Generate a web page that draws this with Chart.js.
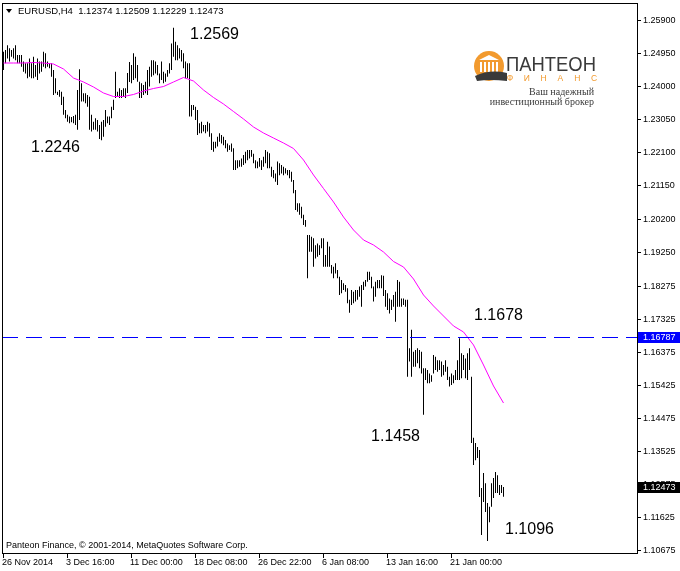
<!DOCTYPE html>
<html><head><meta charset="utf-8">
<script src="https://cdn.jsdelivr.net/npm/chart.js@4/dist/chart.umd.min.js"></script>
<style>html,body{margin:0;padding:0;background:#fff;}#wrap{width:680px;height:571px;position:relative;}</style>
</head><body><div id="wrap"><canvas id="c" width="680" height="571"></canvas></div>
<script>
const symbolTitle = 'EURUSD,H4  1.12374 1.12509 1.12229 1.12473';
const highs = [1.2500,1.2505,1.2519,1.2510,1.2505,1.2510,1.2519,1.2491,1.2491,1.2491,
1.2472,1.2467,1.2467,1.2481,1.2467,1.2486,1.2462,1.2481,1.2472,1.2472,
1.2500,1.2496,1.2472,1.2467,1.2467,1.2448,1.2424,1.2385,1.2390,1.2385,
1.2371,1.2333,1.2319,1.2314,1.2313,1.2316,1.2319,1.2390,1.2450,1.2410,
1.2381,1.2381,1.2376,1.2371,1.2319,1.2299,1.2309,1.2304,1.2290,1.2299,
1.2304,1.2333,1.2314,1.2314,1.2342,1.2362,1.2443,1.2385,1.2395,1.2390,
1.2395,1.2395,1.2439,1.2471,1.2462,1.2496,1.2486,1.2462,1.2414,1.2410,
1.2405,1.2414,1.2448,1.2457,1.2476,1.2476,1.2472,1.2462,1.2438,1.2472,
1.2443,1.2438,1.2448,1.2467,1.2524,1.2569,1.2529,1.2519,1.2510,1.2505,
1.2496,1.2472,1.2467,1.2467,1.2347,1.2347,1.2342,1.2333,1.2295,1.2299,
1.2290,1.2290,1.2299,1.2295,1.2266,1.2242,1.2242,1.2256,1.2266,1.2261,
1.2256,1.2247,1.2237,1.2232,1.2237,1.2223,1.2189,1.2189,1.2189,1.2194,
1.2204,1.2213,1.2218,1.2218,1.2218,1.2207,1.2189,1.2185,1.2195,1.2189,
1.2199,1.2218,1.2213,1.2209,1.2170,1.2161,1.2151,1.2185,1.2180,1.2175,
1.2170,1.2166,1.2161,1.2161,1.2156,1.2132,1.2103,1.2065,1.2065,1.2055,
1.2032,1.2017,1.1974,1.1974,1.1969,1.1965,1.1945,1.1950,1.1945,1.1965,
1.1965,1.1917,1.1955,1.1941,1.1888,1.1883,1.1893,1.1874,1.1854,1.1845,
1.1836,1.1831,1.1821,1.1788,1.1816,1.1811,1.1816,1.1816,1.1826,1.1831,
1.1840,1.1845,1.1869,1.1869,1.1854,1.1826,1.1840,1.1845,1.1845,1.1859,
1.1857,1.1816,1.1807,1.1792,1.1788,1.1802,1.1811,1.1845,1.1840,1.1792,
1.1792,1.1788,1.1788,1.1649,1.1702,1.1639,1.1644,1.1649,1.1644,1.1639,
1.1592,1.1592,1.1587,1.1577,1.1572,1.1630,1.1625,1.1615,1.1615,1.1611,
1.1601,1.1615,1.1596,1.1567,1.1577,1.1572,1.1587,1.1615,1.1678,1.1635,
1.1630,1.1620,1.1635,1.1649,1.1567,1.1392,1.1377,1.1366,1.1357,1.1248,
1.1291,1.1262,1.1205,1.1194,1.1262,1.1277,1.1294,1.1285,1.1257,1.1257,
1.12509];
const lows = [1.2448,1.2467,1.2481,1.2472,1.2486,1.2481,1.2476,1.2467,1.2467,1.2457,
1.2443,1.2438,1.2424,1.2428,1.2424,1.2424,1.2428,1.2419,1.2438,1.2443,
1.2457,1.2453,1.2457,1.2453,1.2428,1.2376,1.2381,1.2376,1.2371,1.2347,
1.2319,1.2309,1.2299,1.2295,1.2298,1.2295,1.2290,1.2276,1.2304,1.2357,
1.2357,1.2352,1.2342,1.2276,1.2271,1.2276,1.2276,1.2271,1.2250,1.2246,
1.2256,1.2285,1.2295,1.2290,1.2309,1.2333,1.2367,1.2371,1.2367,1.2367,
1.2371,1.2367,1.2382,1.2413,1.2410,1.2419,1.2424,1.2414,1.2367,1.2367,
1.2376,1.2381,1.2376,1.2400,1.2428,1.2433,1.2438,1.2433,1.2410,1.2419,
1.2410,1.2414,1.2428,1.2438,1.2448,1.2486,1.2476,1.2476,1.2481,1.2472,
1.2453,1.2424,1.2424,1.2314,1.2314,1.2333,1.2304,1.2261,1.2266,1.2266,
1.2271,1.2266,1.2271,1.2256,1.2218,1.2213,1.2223,1.2228,1.2242,1.2237,
1.2232,1.2223,1.2213,1.2218,1.2213,1.2161,1.2161,1.2166,1.2170,1.2170,
1.2175,1.2180,1.2189,1.2194,1.2199,1.2180,1.2166,1.2166,1.2170,1.2161,
1.2170,1.2180,1.2166,1.2166,1.2141,1.2137,1.2127,1.2118,1.2146,1.2151,
1.2146,1.2151,1.2146,1.2137,1.2127,1.2094,1.2046,1.2041,1.2032,1.2022,
1.2003,1.1998,1.1850,1.1926,1.1926,1.1883,1.1907,1.1912,1.1917,1.1936,
1.1883,1.1883,1.1883,1.1883,1.1864,1.1850,1.1864,1.1850,1.1802,1.1807,
1.1816,1.1811,1.1778,1.1751,1.1773,1.1778,1.1783,1.1788,1.1797,1.1768,
1.1816,1.1826,1.1840,1.1845,1.1821,1.1783,1.1797,1.1821,1.1821,1.1821,
1.1799,1.1768,1.1759,1.1749,1.1759,1.1768,1.1725,1.1768,1.1768,1.1768,
1.1773,1.1768,1.1567,1.1611,1.1567,1.1596,1.1596,1.1606,1.1592,1.1577,
1.1458,1.1558,1.1549,1.1549,1.1553,1.1577,1.1587,1.1582,1.1587,1.1567,
1.1572,1.1582,1.1558,1.1539,1.1544,1.1549,1.1558,1.1558,1.1558,1.1563,
1.1587,1.1563,1.1558,1.1587,1.1377,1.1314,1.1328,1.1334,1.1222,1.1113,
1.1208,1.1179,1.1096,1.1150,1.1194,1.1219,1.1234,1.1234,1.1228,1.1234,
1.12229];
const maIndex = [0,5,10,15,20,25,30,35,40,45,50,55,60,65,70,75,80,85,90,95,100,105,110,115,120,125,
130,135,140,145,150,155,160,165,170,175,180,185,190,195,200,205,210,215,220,225,230,235,240,245,250];
const maValues = [1.24678,1.24678,1.24678,1.24692,1.24678,1.24649,1.24506,1.24247,1.24133,1.23989,
1.23817,1.23716,1.23716,1.23774,1.23874,1.23946,1.24003,1.24133,1.24262,1.24161,
1.23903,1.23688,1.23501,1.23286,1.23071,1.22841,1.22669,1.22525,1.22382,1.22224,
1.21894,1.21464,1.21076,1.20689,1.20258,1.19885,1.19598,1.19455,1.19254,1.18981,
1.18823,1.18479,1.18020,1.17704,1.17417,1.17130,1.16958,1.16585,1.16011,1.15408,1.14920];
const yTickValues = [1.25900,1.24950,1.24000,1.23050,1.22100,1.21150,1.20200,1.19250,1.18275,
1.17325,1.16375,1.15425,1.14475,1.13525,1.12575,1.11625,1.10675];
const xTickIndex = [0,32,64,96,128,160,192,224];
const xTickLabels = ['26 Nov 2014','3 Dec 16:00','11 Dec 00:00','18 Dec 08:00','26 Dec 22:00','6 Jan 08:00','13 Jan 16:00','21 Jan 00:00'];
const levelValue = 1.16787;
const lastPrice = 1.12473;
const markLabels = ['1.2569','1.2246','1.1678','1.1458','1.1096'];
const markIndex = [85,49,228,210,242];
const markSide = ['high','low','high','low','low'];
const copyrightText = 'Panteon Finance, \u00A9 2001-2014, MetaQuotes Software Corp.';

const FONT = "'Liberation Sans', Arial, sans-serif";
const markStyle = [{dx:16.5,dy:7.3,al:'left'},{dx:-21.5,dy:7.7,al:'right'},{dx:14.5,dy:-22.3,al:'left'},{dx:-3.5,dy:22,al:'right'},{dx:17.5,dy:-11,al:'left'}];

const mtPlugin = {
  id:'mt',
  beforeDraw(chart){
    const c=chart.ctx; c.save(); c.fillStyle='#fff'; c.fillRect(0,0,chart.width,chart.height); c.restore();
  },
  afterDatasetsDraw(chart){
    const c=chart.ctx, ys=chart.scales.y, a=chart.chartArea;
    const y=Math.round(ys.getPixelForValue(levelValue)-0.5)+0.5;
    c.save(); c.strokeStyle='#0000FF'; c.lineWidth=1; c.setLineDash([16,8]);
    c.beginPath(); c.moveTo(a.left,y); c.lineTo(a.right,y); c.stroke(); c.restore();
  },
  afterDraw(chart){
    const c=chart.ctx, xs=chart.scales.x, ys=chart.scales.y, a=chart.chartArea;
    c.save();
    c.strokeStyle='#000'; c.lineWidth=1;
    c.strokeRect(a.left+0.5,a.top+0.5,a.right-a.left,a.bottom-a.top);
    c.font='9px '+FONT; c.fillStyle='#000'; c.textBaseline='middle'; c.textAlign='left';
    yTickValues.forEach(v=>{
      const y=Math.round(ys.getPixelForValue(v)-0.5)+0.5;
      c.beginPath(); c.moveTo(a.right+1,y); c.lineTo(a.right+4,y); c.stroke();
      c.fillText(v.toFixed(5),a.right+6,y);
    });
    xTickIndex.forEach((idx,k)=>{
      const x=Math.round(xs.getPixelForValue(idx)-0.5)+0.5;
      c.beginPath(); c.moveTo(x,a.bottom+1); c.lineTo(x,a.bottom+5); c.stroke();
      c.fillText(xTickLabels[k],x-1.5,a.bottom+10);
    });
    const ly=ys.getPixelForValue(levelValue);
    c.fillStyle='#0000FF'; c.fillRect(a.right+1,Math.round(ly-6),43,11);
    c.fillStyle='#fff'; c.fillText(levelValue.toFixed(5),a.right+6,Math.round(ly-6)+5.5);
    const py=ys.getPixelForValue(lastPrice);
    c.fillStyle='#000'; c.fillRect(a.right+1,Math.round(py-6),43,11);
    c.fillStyle='#fff'; c.fillText(lastPrice.toFixed(5),a.right+6,Math.round(py-6)+5.5);
    c.fillStyle='#000';
    c.beginPath(); c.moveTo(6,9); c.lineTo(12,9); c.lineTo(9,13); c.closePath(); c.fill();
    c.font='9.5px '+FONT; c.textAlign='left'; c.fillText(symbolTitle,18,11);
    c.font='9px '+FONT; c.fillText(copyrightText,6,546);
    c.font='16px '+FONT; c.fillStyle='#000';
    markLabels.forEach((t,k)=>{
      const i=markIndex[k]; const v=markSide[k]==='high'?highs[i]:lows[i];
      const x=xs.getPixelForValue(i), y=ys.getPixelForValue(v), s=markStyle[k];
      c.textAlign=s.al; c.textBaseline='middle'; c.fillText(t,x+s.dx,y+s.dy);
    });
    const orange='#F29A2E', dark='#3a3a3a';
    c.fillStyle=orange; c.beginPath(); c.arc(489,66,15,0,Math.PI*2); c.fill();
    c.fillStyle='#fff';
    c.beginPath(); c.moveTo(479,60); c.lineTo(489,55); c.lineTo(499,60); c.closePath(); c.fill();
    for(let k=0;k<5;k++){ c.fillRect(480+k*4,62,2,10); }
    c.fillStyle=dark; c.beginPath(); c.moveTo(475,76); c.quadraticCurveTo(490,69,507,73); c.lineTo(507,81); c.quadraticCurveTo(490,79,477,81); c.closePath(); c.fill();
    c.font='21px '+FONT; c.fillStyle=dark; c.textAlign='left'; c.textBaseline='alphabetic';
    const brand='\u041F\u0410\u041D\u0422\u0415\u041E\u041D';
    const lw=c.measureText(brand).width;
    c.save(); c.translate(506,71); c.scale(90/lw,1); c.fillText(brand,0,0); c.restore();
    c.font='8.5px '+FONT; c.fillStyle=orange; c.textAlign='center';
    const fin=['\u0424','\u0418','\u041D','\u0410','\u041D','\u0421'];
    fin.forEach((ch,k)=>c.fillText(ch,510+k*16.8,81));
    c.font="10px 'Liberation Serif', serif"; c.fillStyle=dark; c.textAlign='right';
    c.fillText('\u0412\u0430\u0448 \u043D\u0430\u0434\u0435\u0436\u043D\u044B\u0439',594,95);
    c.fillText('\u0438\u043D\u0432\u0435\u0441\u0442\u0438\u0446\u0438\u043E\u043D\u043D\u044B\u0439 \u0431\u0440\u043E\u043A\u0435\u0440',594,105);
    c.restore();
  }
};

new Chart(document.getElementById('c'),{
  data:{datasets:[
    {type:'line',data:maIndex.map((x,k)=>({x:x,y:maValues[k]})),borderColor:'#FF00FF',borderWidth:1,pointRadius:0,tension:0,order:0},
    {type:'bar',data:highs.map((h,i)=>({x:i,y:[lows[i],h]})),backgroundColor:'#000',borderWidth:0,barThickness:1,inflateAmount:0,order:1}
  ]},
  options:{
    responsive:false,animation:false,devicePixelRatio:1,
    layout:{padding:{left:2,top:3,right:43,bottom:18}},
    plugins:{legend:{display:false},tooltip:{enabled:false}},
    scales:{
      x:{type:'linear',min:-0.75,max:316.75,offset:false,display:false},
      y:{type:'linear',min:1.10615,max:1.26400,offset:false,display:false}
    }
  },
  plugins:[mtPlugin]
});
</script></body></html>
